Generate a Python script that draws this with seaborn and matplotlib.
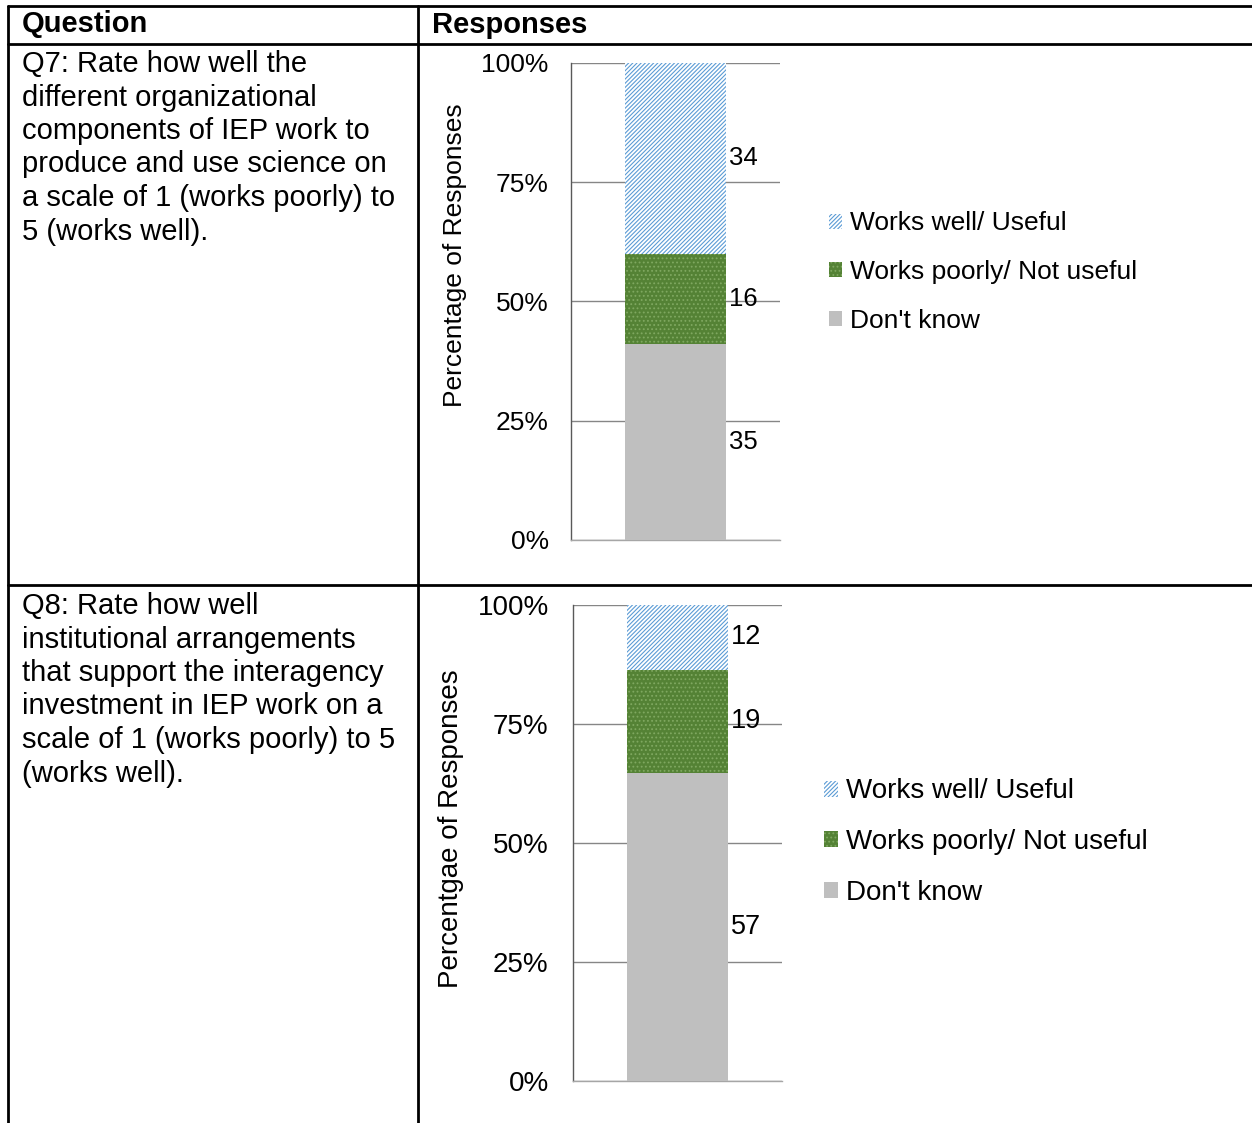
import matplotlib
matplotlib.use("Agg")
import matplotlib.pyplot as plt
import matplotlib.patches as mpatches
import seaborn as sns
import pandas as pd

# Daten
categories = ["Works well/ Useful", "Works poorly/ Not useful", "Don't know"]
q7_counts = [34, 16, 35]
q8_counts = [12, 19, 57]
q7_text = ("Q7: Rate how well the\ndifferent organizational\ncomponents of IEP work to\n"
           "produce and use science on\na scale of 1 (works poorly) to\n5 (works well).")
q8_text = ("Q8: Rate how well\ninstitutional arrangements\nthat support the interagency\n"
           "investment in IEP work on a\nscale of 1 (works poorly) to 5\n(works well).")
ylabels = ["Percentage of Responses", "Percentgae of Responses"]
yticks = [0, 25, 50, 75, 100]

colors = {"Works well/ Useful": "white",
          "Works poorly/ Not useful": "#548235",
          "Don't know": "#BFBFBF"}
hatches = {"Works well/ Useful": "////////",
           "Works poorly/ Not useful": "....",
           "Don't know": ""}
edges = {"Works well/ Useful": "#5B9BD5",
         "Works poorly/ Not useful": "#7FA860",
         "Don't know": "#BFBFBF"}

sns.set_style("white")
plt.rcParams['font.family'] = ['Liberation Sans', 'DejaVu Sans']
plt.rcParams['text.color'] = 'black'
plt.rcParams['axes.labelcolor'] = 'black'
plt.rcParams['ytick.color'] = 'black'
plt.rcParams['hatch.linewidth'] = 0.8

W, H = 1252, 1123
fig = plt.figure(figsize=(W / 100, H / 100), dpi=100)


def fx(px):
    return px / W


def fy(py):
    return 1 - py / H


# Tabellenlinien
lw = 2
for y in [6, 44, 585]:
    fig.add_artist(plt.Line2D([fx(8), 1], [fy(y), fy(y)], color="black", lw=lw))
for x in [8, 418]:
    fig.add_artist(plt.Line2D([fx(x), fx(x)], [fy(6), 0], color="black", lw=lw))

fig.text(fx(22), fy(24), "Question", fontsize=21, fontweight="bold", va="center")
fig.text(fx(432), fy(25), "Responses", fontsize=21, fontweight="bold", va="center")
fig.text(fx(22), fy(50), q7_text, fontsize=21, va="top", linespacing=1.25)
fig.text(fx(22), fy(592), q8_text, fontsize=21, va="top", linespacing=1.25)


def draw_chart(rect, counts, ylabel, label_x, label_y, leg_xy, fs, pad):
    ax = fig.add_axes([fx(rect[0]), fy(rect[3]), fx(rect[2] - rect[0]), (rect[3] - rect[1]) / H])
    total = sum(counts)
    df = pd.DataFrame({"cat": categories, "n": counts})
    df["pct"] = df["n"] / total * 100
    # von oben nach unten gestapelt -> kumulativ von unten
    df = df.iloc[::-1].reset_index(drop=True)
    df["cum"] = df["pct"].cumsum()
    df["mid"] = df["cum"] - df["pct"] / 2
    for i in range(len(df) - 1, -1, -1):
        row = df.iloc[i]
        sns.barplot(x=["Q"], y=[row["cum"]], ax=ax, color=colors[row["cat"]],
                    saturation=1, width=0.483, hatch=hatches[row["cat"]],
                    edgecolor=edges[row["cat"]], linewidth=0, zorder=3)
    for _, row in df.iterrows():
        ax.text(0.255, row["mid"], str(row["n"]), fontsize=fs - 0.5, va="center", ha="left", zorder=4)
    ax.set_xlim(-0.5, 0.5)
    ax.set_ylim(0, 100)
    ax.set_yticks(yticks)
    ax.set_yticklabels([f"{t}%" for t in yticks], fontsize=fs)
    ax.set_xticks([])
    ax.set_xlabel("")
    ax.grid(axis="y", color="#868686", lw=1, zorder=0)
    ax.tick_params(axis="y", length=0, pad=pad)
    for s in ["top", "right"]:
        ax.spines[s].set_visible(False)
    ax.spines["left"].set_color("#595959")
    ax.spines["bottom"].set_color("#A6A6A6")
    ax.spines["left"].set_linewidth(1)
    ax.spines["bottom"].set_linewidth(1)
    ax.set_ylabel(ylabel, fontsize=fs)
    ax.yaxis.label.set_va("center")
    ax.yaxis.set_label_coords(label_x, label_y)

    handles = [mpatches.Patch(facecolor=colors[c], hatch=hatches[c], edgecolor=edges[c],
                              linewidth=0, label=c) for c in categories]
    fig.legend(handles=handles, loc="center left", bbox_to_anchor=(fx(leg_xy[0]), fy(leg_xy[1])),
               frameon=False, fontsize=fs, handlelength=0.5, handleheight=0.5,
               handletextpad=0.3, labelspacing=0.93 * 19 / fs, borderpad=0.4)
    return ax


draw_chart((571, 63, 780, 540), q7_counts, ylabels[0], -0.555, 0.597, (805, 272), 19, 16)
draw_chart((573, 605, 782, 1081), q8_counts, ylabels[1], -0.585, 0.531, (799, 842), 20, 17.5)

fig.savefig("out.png", dpi=100)
